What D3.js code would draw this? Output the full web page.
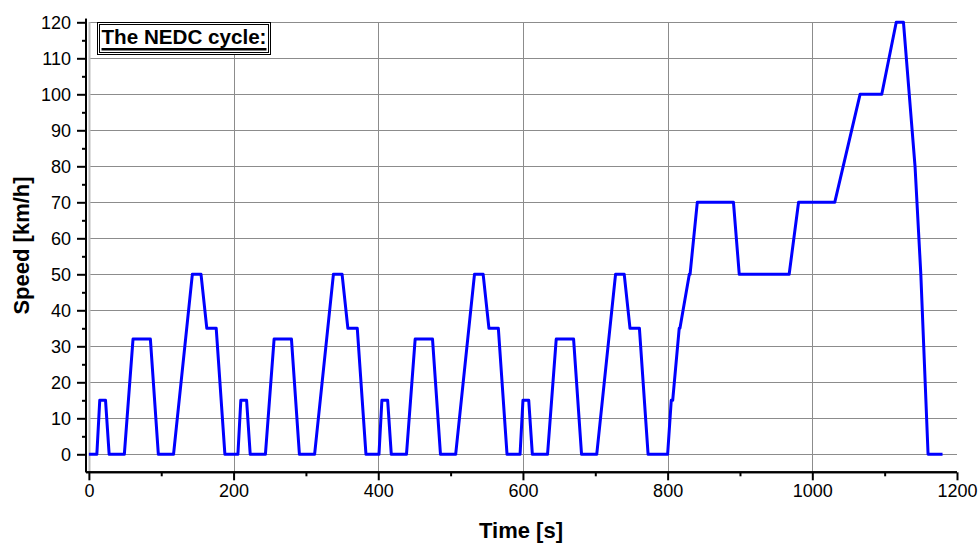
<!DOCTYPE html>
<html>
<head>
<meta charset="utf-8">
<script src="https://cdn.jsdelivr.net/npm/d3@7"></script>
<style>
html,body{margin:0;padding:0;background:#fff;}
svg{display:block;font-family:"Liberation Sans",Arial,sans-serif;}
</style>
</head>
<body>
<svg id="chart" width="979" height="545"></svg>
<script>
// ---- data (NEDC cycle) ----
const timeS = [
  0,11,15,23,28,49,61,85,96,117,143,155,163,176,188,
  195,206,210,218,223,244,256,280,291,312,338,350,358,371,383,
  390,401,405,413,418,439,451,475,486,507,533,545,553,566,578,
  585,596,600,608,613,634,646,670,681,702,728,740,748,761,773,
  780,800,805,807,816,817,830,831,841,891,899,968,981,1031,1066,1096,1116,1126,1142,1150,1160,1180
];
const speedKmh = [
  0,0,15,15,0,0,32,32,0,0,50,50,35,35,0,
  0,0,15,15,0,0,32,32,0,0,50,50,35,35,0,
  0,0,15,15,0,0,32,32,0,0,50,50,35,35,0,
  0,0,15,15,0,0,32,32,0,0,50,50,35,35,0,
  0,0,15,15,35,35,50,50,70,70,50,50,70,70,100,100,120,120,80,50,0,0
];
const xTicks = [0,200,400,600,800,1000,1200];
const xMinorTicks = [100,300,500,700,900,1100];
const yTicks = [0,10,20,30,40,50,60,70,80,90,100,110,120];
const yMinorTicks = [5,15,25,35,45,55,65,75,85,95,105,115];
const xGrid = [0,200,400,600,800,1000];
const xTitle = "Time [s]";
const yTitle = "Speed [km/h]";
const legendText = "The NEDC cycle:";

// ---- layout ----
const svg = d3.select("#chart");
const x = d3.scaleLinear().domain([-4,1200]).range([86,957]);
const y = d3.scaleLinear().domain([-5,121]).range([472.3,18.7]);
const x0 = x.range()[0], x1 = x.range()[1];
const yb = y.range()[0], yt = y.range()[1];

// grid
const grid = svg.append("g");
grid.selectAll("line.h").data(yTicks).join("line")
  .attr("x1", x(0)).attr("x2", x1)
  .attr("y1", d=>Math.round(y(d))+0.5).attr("y2", d=>Math.round(y(d))+0.5)
  .attr("stroke", "#8c8c8c").attr("stroke-width", 1);
grid.selectAll("line.v").data(xGrid).join("line")
  .attr("x1", d=>Math.round(x(d))+0.5).attr("x2", d=>Math.round(x(d))+0.5)
  .attr("y1", yb).attr("y2", y(120))
  .attr("stroke", d=> d===0 ? "#bdbdbd" : "#8c8c8c").attr("stroke-width", d=> d===0 ? 2 : 1);

// data line
const pts = timeS.map((t,i)=>[t, speedKmh[i]]);
svg.append("path")
  .datum(pts)
  .attr("fill","none")
  .attr("stroke","#0000ff")
  .attr("stroke-width",3)
  .attr("stroke-linejoin","round")
  .attr("d", d3.line().x(d=>x(d[0])).y(d=>y(d[1])));

// axes
const xAxis = svg.append("g").attr("transform",`translate(0,${yb})`)
  .call(d3.axisBottom(x).tickValues(xTicks).tickSize(8).tickPadding(4).tickFormat(d3.format("d")));
const xMinor = svg.append("g").attr("transform",`translate(0,${yb})`)
  .call(d3.axisBottom(x).tickValues(xMinorTicks).tickSize(4).tickFormat(""));
const yAxis = svg.append("g").attr("transform",`translate(${x0},0)`)
  .call(d3.axisLeft(y).tickValues(yTicks).tickSize(9).tickPadding(6).tickFormat(d3.format("d")));
const yMinor = svg.append("g").attr("transform",`translate(${x0},0)`)
  .call(d3.axisLeft(y).tickValues(yMinorTicks).tickSize(4).tickFormat(""));

svg.selectAll(".domain").attr("stroke","#000").attr("stroke-width",2);
svg.selectAll(".tick line").attr("stroke","#000").attr("stroke-width",2);
svg.selectAll(".tick text").attr("font-size",18).attr("fill","#000")
  .attr("font-family","'Liberation Sans',Arial,sans-serif");
[xAxis, xMinor].forEach(g=>g.select(".domain").attr("d",`M${x0},0H${x1}`));
[yAxis, yMinor].forEach(g=>g.select(".domain").attr("d",`M0,${yb}V${yt}`));

// axis titles
svg.append("text").attr("x",521).attr("y",538).attr("text-anchor","middle")
  .attr("font-size",22).attr("font-weight","bold").text(xTitle);
svg.append("text").attr("transform",`translate(29,${(yb+yt)/2}) rotate(-90)`)
  .attr("text-anchor","middle").attr("font-size",22).attr("font-weight","bold").text(yTitle);

// legend box
const lg = svg.append("g");
lg.append("rect").attr("x",97.5).attr("y",22.5).attr("width",173).attr("height",32)
  .attr("fill","#fff").attr("stroke","#000").attr("stroke-width",1);
lg.append("rect").attr("x",99.5).attr("y",24.5).attr("width",169).attr("height",28)
  .attr("fill","none").attr("stroke","#000").attr("stroke-width",1);
const lt = lg.append("text").attr("x",101.5).attr("y",43.5).attr("font-size",20.5).attr("font-weight","bold")
  .attr("textLength",165).attr("lengthAdjust","spacingAndGlyphs")
  .text(legendText);
const bb = lt.node().getBBox();
lg.append("line").attr("x1",bb.x).attr("x2",bb.x+bb.width).attr("y1",49.2).attr("y2",49.2)
  .attr("stroke","#000").attr("stroke-width",2.5);
</script>
</body>
</html>
